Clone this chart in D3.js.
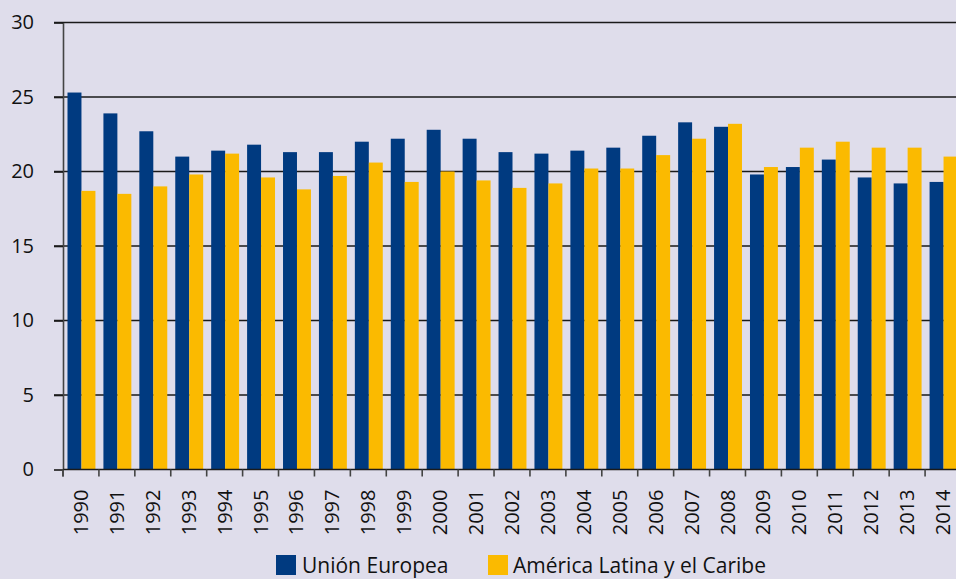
<!DOCTYPE html>
<html>
<head>
<meta charset="utf-8">
<script src="https://cdn.jsdelivr.net/npm/d3@7"></script>
<style>
  html, body { margin: 0; padding: 0; background: #DFDDEB; }
  svg { display: block; }
  text { font-family: "Open Sans", Lato, sans-serif; fill: #111; }
</style>
</head>
<body>
<svg id="chart" width="956" height="579"></svg>
<script>
const years = ["1990","1991","1992","1993","1994","1995","1996","1997","1998","1999","2000","2001","2002","2003","2004","2005","2006","2007","2008","2009","2010","2011","2012","2013","2014"];
const unionEuropea = [25.3,23.9,22.7,21.0,21.4,21.8,21.3,21.3,22.0,22.2,22.8,22.2,21.3,21.2,21.4,21.6,22.4,23.3,23.0,19.8,20.3,20.8,19.6,19.2,19.3];
const americaLatina = [18.7,18.5,19.0,19.8,21.2,19.6,18.8,19.7,20.6,19.3,20.0,19.4,18.9,19.2,20.2,20.2,21.1,22.2,23.2,20.3,21.6,22.0,21.6,21.6,21.0];
const seriesNames = ["Unión Europea", "América Latina y el Caribe"];
const seriesColors = ["#003A80", "#FBBA00"];
const yTicks = [0,5,10,15,20,25,30];

(function draw() {
const svg = d3.select("#chart");
const mLeft = 63, mRight = 961, mTop = 22.5, mBottom = 469.5;

const x = d3.scaleBand().domain(years).range([mLeft, mRight]).padding(0);
const xInner = d3.scaleBand().domain([0,1]).range([4.5, x.bandwidth() - 3.5]).padding(0);
const y = d3.scaleLinear().domain([0, 30]).range([mBottom, mTop]);

// gridlines
svg.append("g").selectAll("line").data(yTicks.filter(d => d > 0)).join("line")
  .attr("x1", mLeft - 9).attr("x2", 956)
  .attr("y1", d => y(d)).attr("y2", d => y(d))
  .attr("stroke", "#1a1a1a").attr("stroke-width", 1.6);

// bars
const data = years.map((yr, i) => ({ yr, vals: [unionEuropea[i], americaLatina[i]] }));
const groups = svg.append("g").selectAll("g").data(data).join("g")
  .attr("transform", d => `translate(${x(d.yr)},0)`);
groups.selectAll("rect").data(d => d.vals.map((v, k) => ({ v, k }))).join("rect")
  .attr("x", d => xInner(d.k))
  .attr("width", xInner.bandwidth())
  .attr("y", d => y(d.v))
  .attr("height", d => y(0) - y(d.v))
  .attr("fill", d => seriesColors[d.k]);

// y axis
const yAxis = d3.axisLeft(y).tickValues(yTicks).tickSize(9).tickPadding(20).tickSizeOuter(0);
const gy = svg.append("g").attr("transform", `translate(${mLeft},0)`).call(yAxis);
gy.select(".domain").attr("stroke", "#444").attr("stroke-width", 1.6);
gy.selectAll(".tick line").attr("stroke", "#1a1a1a").attr("stroke-width", 1.6);
gy.selectAll(".tick text").attr("font-size", 20).attr("font-family", "'Open Sans', sans-serif").attr("fill", "#111");

svg.append("line").attr("x1", mLeft).attr("x2", mLeft).attr("y1", mBottom).attr("y2", mBottom + 7)
  .attr("stroke", "#444").attr("stroke-width", 1.6);

// x axis
const gx = svg.append("g").attr("transform", `translate(0,${mBottom})`);
gx.append("line").attr("x1", mLeft).attr("x2", 956).attr("y1", 0).attr("y2", 0)
  .attr("stroke", "#1a1a1a").attr("stroke-width", 1.6);
const tickPos = years.map(yr => x(yr)).concat([x(years[years.length-1]) + x.bandwidth()]);
gx.selectAll("line.tk").data(tickPos).join("line").attr("class", "tk")
  .attr("x1", d => d).attr("x2", d => d).attr("y1", 0).attr("y2", 7)
  .attr("stroke", "#444").attr("stroke-width", 1.6);
gx.selectAll("text").data(years).join("text")
  .attr("transform", d => `translate(${x(d) + x.bandwidth()/2 + 7},20) rotate(-90)`)
  .attr("text-anchor", "end")
  .attr("font-family", "Lato, sans-serif")
  .attr("font-size", 20)
  .text(d => d);

// legend
const legend = svg.append("g");
const legendItems = [{ name: seriesNames[0], color: seriesColors[0], x: 276, tx: 302 },
                     { name: seriesNames[1], color: seriesColors[1], x: 488, tx: 513 }];
legendItems.forEach(it => {
  legend.append("rect").attr("x", it.x).attr("y", 555).attr("width", 20).attr("height", 20).attr("fill", it.color);
  legend.append("text").attr("x", it.tx).attr("y", 573).attr("font-size", 21).text(it.name);
});
})();
</script>
</body>
</html>
